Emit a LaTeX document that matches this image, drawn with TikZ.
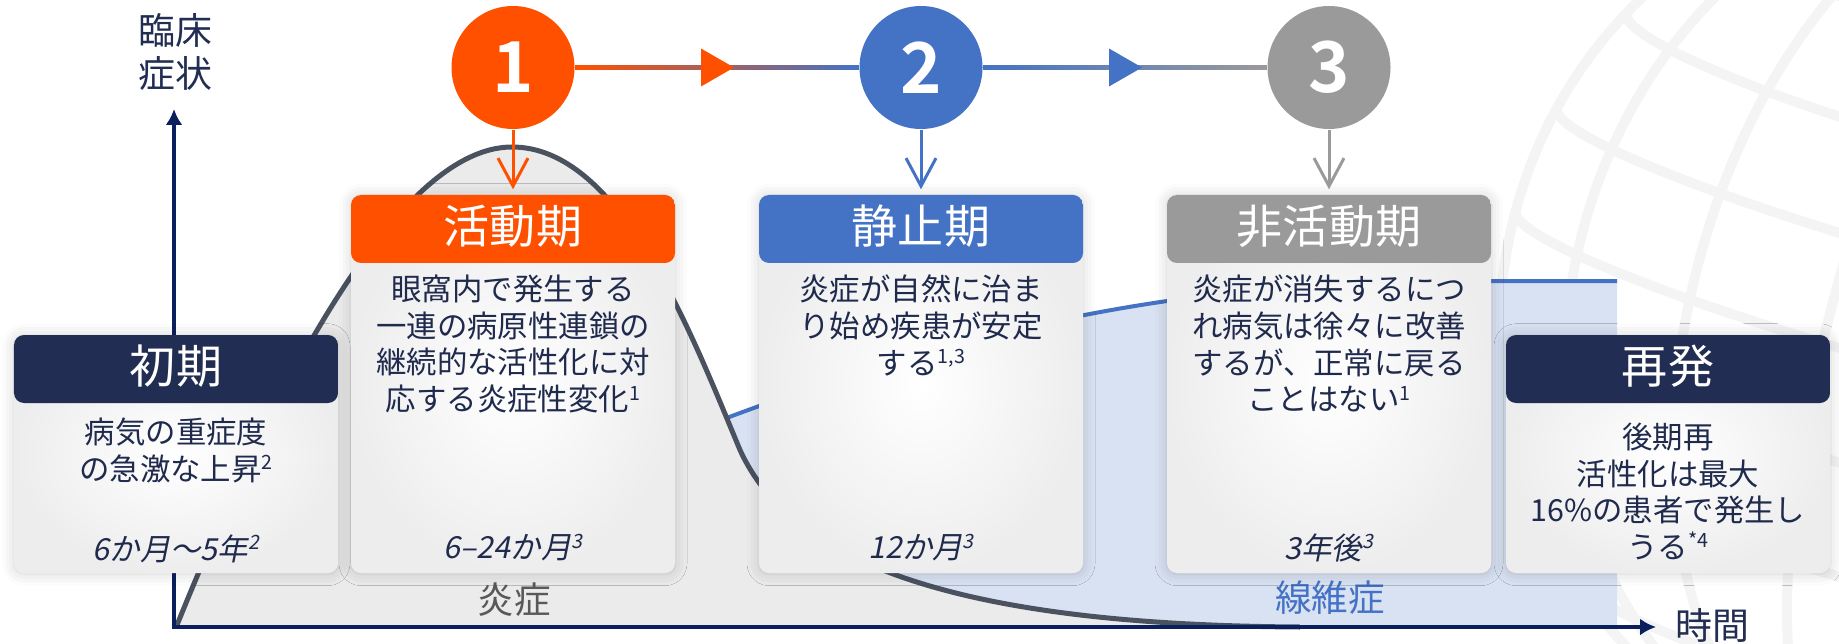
\documentclass[tikz,border=0pt]{standalone}
\usepackage{fontspec}
\setmainfont[BoldFont={Noto Sans CJK JP Bold}]{Noto Sans CJK JP}
\newfontfamily\slantfont[FakeSlant=0.2]{Noto Sans CJK JP}
\usetikzlibrary{arrows.meta,positioning,shadows.blur}

\definecolor{navy}{HTML}{212D52}
\definecolor{actorange}{HTML}{FF5000}
\definecolor{calmblue}{HTML}{4472C4}
\definecolor{idlegray}{HTML}{9A9A9A}
\definecolor{inktext}{HTML}{1F2A4D}
\definecolor{axisblue}{HTML}{0B1F5C}
\definecolor{curvegray}{HTML}{4A5260}
\definecolor{inflfill}{HTML}{EBEBEB}
\definecolor{fibrfill}{HTML}{D9E2F3}
\definecolor{globegray}{HTML}{F4F4F4}

\newcommand{\refmark}[1]{\raisebox{0.35em}{\fontsize{5.6}{6}\selectfont #1}}

\tikzset{
	card/.style={rectangle, rounded corners=0.1cm, minimum width=3.24cm, inner sep=0pt,
		shade, inner color=white, outer color=black!7,
		blur shadow={shadow xshift=0pt, shadow yshift=-0.2pt, shadow blur radius=0.12cm, shadow opacity=18},
		path picture={\fill[#1] (path picture bounding box.north west) rectangle ([yshift=-0.68cm]path picture bounding box.north east);}},
	cardtitle/.style={text=white, inner sep=0pt, font=\fontsize{13.1}{15}\selectfont},
	cardtext/.style={text=inktext, align=center, inner sep=0pt, anchor=north, font=\fontsize{8.65}{10.44}\selectfont},
	cardtime/.style={text=inktext, inner sep=0pt, font=\fontsize{8.65}{10.44}\slantfont},
	stage/.style={circle, fill=#1, minimum size=1.23cm, inner sep=0pt, text=white, font=\fontsize{20}{24}\bfseries},
	godown/.style={draw=#1, line width=0.03cm, -{Straight Barb[length=0.28cm,width=0.3cm,line width=0.03cm]}, shorten >=0.05cm},
	axis/.style={draw=axisblue, line width=0.035cm, -{Latex[length=0.16cm,width=0.17cm]}},
	axislabel/.style={text=navy, align=center, inner sep=0pt, font=\fontsize{10.5}{12.5}\selectfont},
}

\begin{document}
\begin{tikzpicture}
	\useasboundingbox (0,0) rectangle (18.39,-6.44);

	% globe watermark
	\begin{scope}
		\clip (0,0) rectangle (18.39,-6.44);
		\begin{scope}[shift={(19.6,-3.3)}, rotate=-15, draw=globegray, line width=0.1cm]
			\draw (0,0) circle (4.6);
			\clip (0,0) circle (4.6);
			\foreach \lat in {-3.3,-2.2,-1.1,0,1.1,2.2,3.3}
				\draw ({-sqrt(4.6*4.6-\lat*\lat)},\lat) arc (180:360:{sqrt(4.6*4.6-\lat*\lat)} and 0.5);
			\foreach \lon in {1.3,2.7,3.9}
				\draw (0,4.6) arc (90:270:\lon cm and 4.6cm);
			\draw (0,4.6) -- (0,-4.6);
		\end{scope}
	\end{scope}

	% fibrosis and inflammation areas
	\fill[fibrfill] (6.5,-6.27) -- (6.5,-4.5) -- (6.9,-4.32)
		.. controls (9.0,-3.5) and (11.0,-3.0) .. (13.0,-2.87)
		.. controls (14.0,-2.83) .. (14.93,-2.81) -- (16.17,-2.81) -- (16.17,-6.27) -- cycle;
	\draw[calmblue, line width=0.04cm] (6.9,-4.32)
		.. controls (9.0,-3.5) and (11.0,-3.0) .. (13.0,-2.87)
		.. controls (14.0,-2.83) .. (14.93,-2.81) -- (16.17,-2.81);

	\fill[inflfill] (1.77,-6.25) .. controls (2.60,-4.20) and (3.90,-1.47) .. (5.12,-1.47)
		.. controls (6.20,-1.47) and (6.90,-3.30) .. (7.40,-4.50)
		.. controls (7.90,-5.60) and (9.50,-6.25) .. (13.0,-6.27) -- cycle;
	\draw[curvegray, line width=0.05cm] (1.77,-6.25) .. controls (2.60,-4.20) and (3.90,-1.47) .. (5.12,-1.47)
		.. controls (6.20,-1.47) and (6.90,-3.30) .. (7.40,-4.50)
		.. controls (7.90,-5.60) and (9.50,-6.25) .. (13.0,-6.27);

	\node[text=black!65, font=\fontsize{10.4}{12}\selectfont] (infl) at (5.14,-6.00) {炎症};
	\node[text=calmblue, font=\fontsize{10.4}{12}\selectfont] (fibr) at (13.30,-5.98) {線維症};

	% axes
	\coordinate (o) at (1.74,-6.27);
	\coordinate (ytop) at (1.74,-1.09);
	\coordinate (xend) at (16.56,-6.27);
	\draw[axis] ([yshift=-0.017cm]o) -- (ytop);
	\draw[axis] ([xshift=-0.017cm]o) -- (xend);
	\node[axislabel] (ylab) at (1.75,-0.52) {臨床\\症状};
	\node[axislabel, anchor=west] (xlab) at (16.75,-6.25) {時間};

	% stages
	\node[stage=actorange] (n1) at (5.13,-0.675) {1};
	\node[stage=calmblue] (n2) at (9.21,-0.675) {2};
	\node[stage=idlegray] (n3) at (13.29,-0.675) {3};

	\shade[left color=actorange, right color=calmblue] ([yshift=0.02cm]n1.east) rectangle ([yshift=-0.02cm]n2.west);
	\shade[left color=calmblue, right color=idlegray] ([yshift=0.02cm]n2.east) rectangle ([yshift=-0.02cm]n3.west);
	\path (n1) -- (n2) coordinate[midway] (m12);
	\path (n2) -- (n3) coordinate[midway] (m23);
	\fill[actorange] ([xshift=0.17cm]m12) -- ([xshift=-0.16cm,yshift=0.19cm]m12) -- ([xshift=-0.16cm,yshift=-0.19cm]m12) -- cycle;
	\fill[calmblue] ([xshift=0.17cm]m23) -- ([xshift=-0.16cm,yshift=0.19cm]m23) -- ([xshift=-0.16cm,yshift=-0.19cm]m23) -- cycle;

	% cards
	\node[card=navy, minimum height=2.38cm] (c0) at (1.76,-4.54) {};
	\node[card=actorange, minimum height=3.78cm] (c1) at (5.13,-3.84) {};
	\node[card=calmblue, minimum height=3.78cm] (c2) at (9.21,-3.84) {};
	\node[card=idlegray, minimum height=3.78cm] (c3) at (13.29,-3.84) {};
	\node[card=navy, minimum height=2.38cm] (c4) at (16.68,-4.54) {};

	\draw[godown=actorange] (n1) -- (c1);
	\draw[godown=calmblue] (n2) -- (c2);
	\draw[godown=idlegray] (n3) -- (c3);

	\foreach \c/\t in {c0/初期, c1/活動期, c2/静止期, c3/非活動期, c4/再発}
		\node[cardtitle] (\c-title) at ([yshift=-0.32cm]\c.north) {\t};

	\node[cardtext] (c0-text) at ([yshift=-0.83cm]c0.north) {病気の重症度\\の急激な上昇\refmark{2}};
	\node[cardtext] (c1-text) at ([yshift=-0.80cm]c1.north) {眼窩内で発生する\\一連の病原性連鎖の\\継続的な活性化に対\\応する炎症性変化\refmark{1}};
	\node[cardtext] (c2-text) at ([yshift=-0.80cm]c2.north) {炎症が自然に治ま\\り始め疾患が安定\\する\refmark{1,3}};
	\node[cardtext] (c3-text) at ([yshift=-0.80cm]c3.north) {炎症が消失するにつ\\れ病気は徐々に改善\\するが、正常に戻る\\ことはない\refmark{1}};
	\node[cardtext] (c4-text) at ([yshift=-0.88cm]c4.north) {後期再\\活性化は最大\\16\%の患者で発生し\\うる\refmark{*4}};

	\node[cardtime] (c0-time) at ([yshift=0.25cm]c0.south) {6か月～5年\refmark{2}};
	\node[cardtime] (c1-time) at ([yshift=0.26cm]c1.south) {6–24か月\refmark{3}};
	\node[cardtime] (c2-time) at ([yshift=0.26cm]c2.south) {12か月\refmark{3}};
	\node[cardtime] (c3-time) at ([yshift=0.26cm]c3.south) {3年後\refmark{3}};
\end{tikzpicture}
\end{document}
